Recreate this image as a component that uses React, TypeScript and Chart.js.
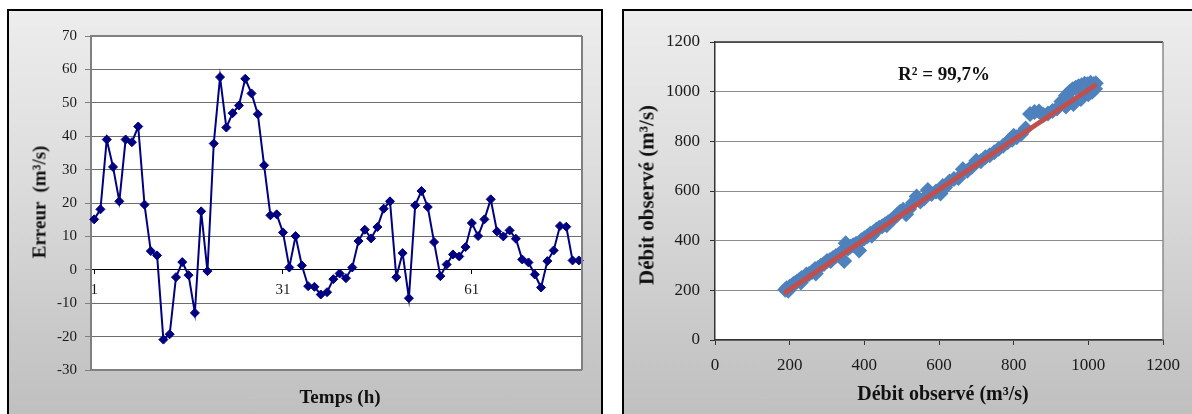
import React, { useEffect, useRef } from "react";
import { Chart, registerables } from "chart.js";

Chart.register(...registerables);

// ---------- Left chart data (error over time) ----------
const hourLabels = [
  "1", "2", "3", "4", "5", "6", "7", "8", "9", "10",
  "11", "12", "13", "14", "15", "16", "17", "18", "19", "20",
  "21", "22", "23", "24", "25", "26", "27", "28", "29", "30",
  "31", "32", "33", "34", "35", "36", "37", "38", "39", "40",
  "41", "42", "43", "44", "45", "46", "47", "48", "49", "50",
  "51", "52", "53", "54", "55", "56", "57", "58", "59", "60",
  "61", "62", "63", "64", "65", "66", "67", "68", "69", "70",
  "71", "72", "73", "74", "75", "76", "77", "78",
];
const errorValues = [
  15.1, 18.1, 39, 30.8, 20.5, 39, 38.2, 42.9, 19.5, 5.6,
  4.3, -20.9, -19.3, -2.2, 2.3, -1.6, -12.9, 17.5, -0.4, 37.8,
  57.7, 42.6, 46.9, 49.2, 57.2, 52.8, 46.6, 31.3, 16.3, 16.6,
  11.2, 0.7, 10.1, 1.3, -4.9, -5.1, -7.4, -6.7, -2.8, -1.1,
  -2.5, 0.7, 8.6, 12, 9.4, 12.8, 18.3, 20.5, -2.2, 5.0,
  -8.5, 19.3, 23.6, 18.8, 8.3, -1.9, 1.6, 4.6, 4.0, 6.8,
  14.0, 10.1, 15.1, 21.1, 11.5, 10.0, 11.8, 9.3, 3.1, 2.2,
  -1.4, -5.3, 2.6, 5.8, 13.1, 12.9, 2.8, 2.8,
];
const shownHourTicks = ["1", "31", "61"];
const errorAxisMin = -30;
const errorAxisMax = 70;
const errorAxisStep = 10;

// ---------- Right chart data (observed vs simulated flow) ----------
const simulatedFlow = [
  188, 192, 196, 200, 205, 210, 215, 220, 226, 232,
  238, 245, 252, 260, 268, 276, 284, 292, 300, 308,
  316, 324, 332, 340, 346, 350, 356, 362, 370, 378,
  386, 392, 400, 408, 416, 424, 432, 440, 448, 456,
  464, 472, 480, 488, 496, 504, 512, 520, 530, 540,
  550, 560, 570, 580, 592, 604, 616, 628, 640, 652,
  664, 676, 688, 700, 712, 724, 736, 748, 760, 772,
  784, 796, 808, 820, 832, 844, 856, 868, 880, 892,
  904, 916, 928, 940, 950, 958, 966, 974, 982, 990,
  998, 1006, 1014, 1020, 940, 960, 980, 1000, 1010, 1018,
  230, 270, 310, 420, 460, 610, 700, 790, 800, 985,
];
const observedFlow = [
  202, 208, 198, 214, 218, 226, 230, 236, 242, 250,
  250, 264, 266, 274, 286, 290, 300, 306, 318, 322,
  330, 338, 344, 356, 318, 390, 368, 376, 382, 388,
  360, 402, 410, 418, 428, 434, 444, 452, 458, 466,
  474, 482, 492, 504, 516, 524, 506, 528, 552, 578,
  558, 570, 604, 588, 598, 590, 614, 638, 648, 652,
  688, 682, 698, 716, 720, 736, 744, 756, 770, 782,
  796, 806, 816, 830, 852, 910, 918, 920, 906, 912,
  922, 932, 960, 985, 1000, 1010, 1016, 1022, 1026, 1032,
  1030, 1036, 1030, 1034, 940, 950, 970, 990, 1000, 1012,
  232, 268, 318, 420, 462, 620, 722, 806, 822, 1004,
];
const trendSimulated = [185, 1022];
const trendObserved = [188, 1030];
const flowAxisMin = 0;
const flowAxisMax = 1200;
const flowAxisStep = 200;
const r2Text = "R² = 99,7%";

const SERIF = "'Liberation Serif', 'Times New Roman', serif";

const plotFrame = {
  id: "plotFrame",
  beforeDraw(chart: any) {
    const { ctx, chartArea } = chart;
    if (!chartArea) return;
    const { left, top, right, bottom } = chartArea;
    ctx.save();
    ctx.fillStyle = "#ffffff";
    ctx.fillRect(left, top, right - left, bottom - top);
    ctx.restore();
  },
  afterDraw(chart: any, _args: any, opts: any) {
    const { ctx, chartArea } = chart;
    if (!chartArea) return;
    const { left, top, right, bottom } = chartArea;
    ctx.save();
    ctx.lineWidth = opts.width || 1;
    ctx.strokeStyle = opts.topColor || "#808080";
    ctx.beginPath();
    ctx.moveTo(left, top);
    ctx.lineTo(right, top);
    ctx.stroke();
    ctx.strokeStyle = opts.rightColor || "#808080";
    ctx.beginPath();
    ctx.moveTo(right, top);
    ctx.lineTo(right, bottom);
    ctx.stroke();
    if (opts.bottomColor) {
      ctx.strokeStyle = opts.bottomColor;
      ctx.beginPath();
      ctx.moveTo(left, bottom);
      ctx.lineTo(right, bottom);
      ctx.stroke();
    }
    ctx.restore();
  },
};

const panelStyle = (left: number): React.CSSProperties => ({
  position: "absolute",
  left,
  top: 9,
  width: left > 300 ? 580 : 596,
  height: 430,
  boxSizing: "border-box",
  border: "2px solid #000",
  background: "linear-gradient(180deg, #ededed 0%, #dcdcdc 40%, #c9c9c9 75%, #bdbdbd 100%)",
});

const titleStyle = (cx: number, cy: number, size: number, rotate = false): React.CSSProperties => ({
  position: "absolute",
  left: cx,
  top: cy,
  transform: `translate(-50%, -50%)${rotate ? " rotate(-90deg)" : ""}`,
  fontFamily: SERIF,
  fontWeight: "bold",
  fontSize: size,
  whiteSpace: "pre",
  color: "#111",
  lineHeight: 1,
});

export default function App() {
  const leftRef = useRef<HTMLCanvasElement | null>(null);
  const rightRef = useRef<HTMLCanvasElement | null>(null);

  useEffect(() => {
    if (!leftRef.current || !rightRef.current) return;

    const left = new Chart(leftRef.current, {
      type: "line",
      data: {
        labels: hourLabels,
        datasets: [
          {
            data: errorValues,
            borderColor: "#000080",
            backgroundColor: "#000080",
            borderWidth: 2,
            pointStyle: "rectRot",
            pointRadius: 4.5,
            pointBorderWidth: 1,
            pointBackgroundColor: "#000080",
            pointBorderColor: "#000080",
            tension: 0,
          },
        ],
      },
      options: {
        responsive: false,
        animation: false,
        devicePixelRatio: 1,
        layout: { padding: { left: 0, top: 25, right: 19, bottom: 44 } },
        plugins: {
          legend: { display: false },
          tooltip: { enabled: false },
          plotFrame: { topColor: "#808080", rightColor: "#808080", bottomColor: "#808080", width: 2 },
        } as any,
        scales: {
          x: {
            type: "category",
            position: { y: 0 } as any,
            offset: true,
            grid: {
              offset: false,
              drawOnChartArea: false,
              drawTicks: true,
              tickLength: 4,
              color: "#000",
            },
            border: { display: true, color: "#000", width: 1 },
            ticks: {
              autoSkip: false,
              maxRotation: 0,
              padding: 7,
              color: "#1a1a1a",
              font: { family: SERIF, size: 15 },
              callback: function (this: any, value: any) {
                const lbl = this.getLabelForValue(value);
                return shownHourTicks.includes(lbl) ? lbl : null;
              },
            },
          },
          y: {
            min: errorAxisMin,
            max: errorAxisMax,
            ticks: {
              stepSize: errorAxisStep,
              padding: 8,
              color: "#1a1a1a",
              font: { family: SERIF, size: 15 },
            },
            grid: { color: "#6e6e6e", lineWidth: 1, tickLength: 6, tickColor: "#808080" },
            border: { color: "#808080", width: 2 },
            afterFit(scale: any) {
              scale.width = 82;
            },
          },
        },
      },
      plugins: [plotFrame as any],
    });

    const plainNumber = (v: any) => String(v);

    const right = new Chart(rightRef.current, {
      type: "scatter",
      data: {
        datasets: [
          {
            type: "line",
            data: trendSimulated.map((x, i) => ({ x, y: trendObserved[i] })),
            borderColor: "#C0504D",
            borderWidth: 5,
            pointRadius: 0,
            order: 0,
          } as any,
          {
            data: simulatedFlow.map((x, i) => ({ x, y: observedFlow[i] })),
            pointStyle: "rectRot",
            pointRadius: 8,
            backgroundColor: "#4F81BD",
            borderColor: "#4F81BD",
            pointBorderWidth: 0,
            order: 1,
          },
        ],
      },
      options: {
        responsive: false,
        animation: false,
        devicePixelRatio: 1,
        layout: { padding: { left: 0, top: 31, right: 37, bottom: 0 } },
        plugins: {
          legend: { display: false },
          tooltip: { enabled: false },
          plotFrame: { topColor: "#333", rightColor: "#8a8a8a", width: 1.5 },
        } as any,
        scales: {
          x: {
            type: "linear",
            min: flowAxisMin,
            max: flowAxisMax,
            ticks: {
              stepSize: flowAxisStep,
              padding: 10,
              color: "#1a1a1a",
              font: { family: SERIF, size: 17 },
              callback: plainNumber,
            },
            grid: { drawOnChartArea: false, drawTicks: true, tickLength: 5, tickColor: "#333" },
            border: { color: "#333", width: 1.5 },
            afterFit(scale: any) {
              scale.height = 74;
            },
          },
          y: {
            type: "linear",
            min: flowAxisMin,
            max: flowAxisMax,
            ticks: {
              stepSize: flowAxisStep,
              padding: 10,
              color: "#1a1a1a",
              font: { family: SERIF, size: 17 },
              callback: plainNumber,
            },
            grid: { color: "#8c8c8c", lineWidth: 1, tickLength: 5, tickColor: "#333" },
            border: { color: "#333", width: 1.5 },
            afterFit(scale: any) {
              scale.width = 91;
            },
          },
        },
      },
      plugins: [plotFrame as any],
    });

    return () => {
      left.destroy();
      right.destroy();
    };
  }, []);

  return (
    <div
      style={{
        position: "absolute",
        left: 0,
        top: 0,
        width: 1192,
        height: 414,
        overflow: "hidden",
        background: "#fff",
      }}
    >
      <div style={panelStyle(7)}>
        <canvas ref={leftRef} width={592} height={403} style={{ position: "absolute", left: 0, top: 0 }} />
      </div>
      <div style={panelStyle(622)}>
        <canvas ref={rightRef} width={576} height={403} style={{ position: "absolute", left: 0, top: 0 }} />
      </div>
      <div style={titleStyle(39, 202, 19, true)}>{"Erreur  (m³/s)"}</div>
      <div style={titleStyle(340, 396, 19)}>{"Temps (h)"}</div>
      <div style={titleStyle(647, 195, 21, true)}>{"Débit observé (m³/s)"}</div>
      <div style={titleStyle(943, 393, 20)}>{"Débit observé (m³/s)"}</div>
      <div style={titleStyle(944, 73, 19)}>{r2Text}</div>
    </div>
  );
}
